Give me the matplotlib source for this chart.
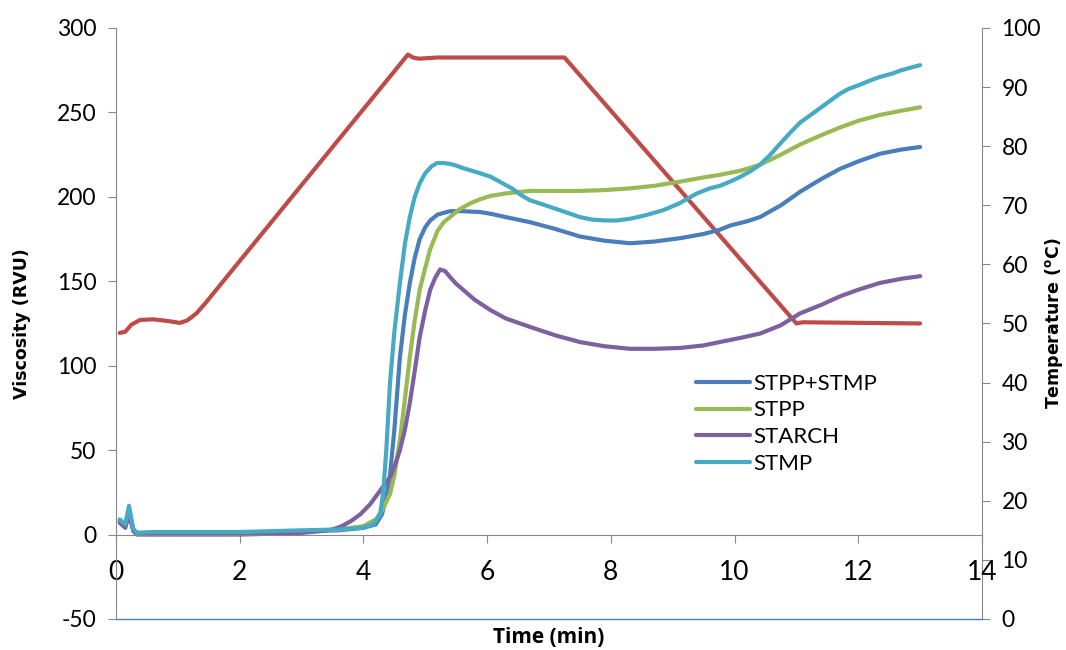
import numpy as np
import matplotlib
matplotlib.use("Agg")
import matplotlib.pyplot as plt

plt.rcParams['font.family'] = ['Lato', 'DejaVu Sans']
plt.rcParams['mathtext.default'] = 'regular'
plt.rcParams['axes.unicode_minus'] = False

# viscosity curves (RVU)
t_stmp = [0.06, 0.15, 0.21, 0.28, 0.34, 0.6, 1.0, 2.0, 3.0, 3.6, 4.0, 4.15, 4.2, 4.27, 4.32, 4.37, 4.43,
          4.5, 4.59, 4.67, 4.75, 4.83, 4.91, 5.0, 5.1, 5.19, 5.3, 5.4, 5.5, 5.61, 5.75, 5.88, 6.05, 6.2,
          6.4, 6.55, 6.69, 6.9, 7.1, 7.3, 7.5, 7.7, 7.9, 8.1, 8.31, 8.55, 8.84, 9.1, 9.39, 9.6, 9.76,
          9.93, 10.1, 10.25, 10.41, 10.58, 10.75, 10.9, 11.06, 11.25, 11.4, 11.55, 11.7, 11.85, 12.0,
          12.2, 12.35, 12.55, 12.7, 12.85, 13.0]
v_stmp = [9, 6, 17, 3, 1, 1.5, 1.5, 1.5, 2.5, 3, 4, 6, 8, 12, 25, 50, 90,
          120, 149, 172, 188, 200, 208, 214, 218, 220, 220, 219.5, 218.5, 217, 215.5, 214, 212, 209,
          205, 201, 198, 195.5, 193, 190.5, 188, 186.5, 186, 186, 187, 189, 192, 196, 202, 205, 206.5,
          209, 212, 215, 219, 225, 232, 238, 244, 249, 253, 257, 261, 264, 266,
          269, 271, 273, 275, 276.5, 278]

t_both = [0.06, 0.15, 0.21, 0.28, 0.34, 0.6, 1.0, 2.0, 3.0, 3.6, 4.0, 4.2, 4.3, 4.37, 4.43, 4.5, 4.59,
          4.67, 4.75, 4.83, 4.91, 5.0, 5.08, 5.2, 5.4, 5.6, 5.88, 6.05, 6.3, 6.69, 7.1, 7.5, 7.9, 8.31,
          8.7, 9.12, 9.5, 9.76, 9.93, 10.2, 10.41, 10.75, 11.06, 11.4, 11.7, 12.0, 12.35, 12.7, 13.0]
v_both = [8, 5, 14, 3, 1, 1, 1, 1, 2, 2.5, 4, 6, 12, 22, 35, 62, 105,
          130, 149, 164, 175, 182, 186, 189.5, 191.5, 191.5, 191, 190, 188, 185, 181, 176.5, 174, 172.5,
          173.5, 175.5, 178, 180.5, 183, 185.5, 188, 195, 203, 210.5, 216.5, 221, 225.5, 228, 229.5]

t_stpp = [0.06, 0.15, 0.21, 0.28, 0.34, 0.6, 1.0, 2.0, 3.0, 3.6, 4.0, 4.2, 4.3, 4.43, 4.5, 4.59, 4.67,
          4.75, 4.83, 4.91, 5.0, 5.08, 5.2, 5.3, 5.4, 5.55, 5.72, 5.88, 6.05, 6.3, 6.69, 7.1, 7.5, 7.9,
          8.31, 8.7, 9.12, 9.5, 9.76, 10.1, 10.41, 10.75, 11.06, 11.4, 11.7, 12.0, 12.35, 12.7, 13.0]
v_stpp = [8, 5, 14, 3, 0.5, 0.5, 0.5, 0.5, 1.5, 3, 5, 9, 14, 24, 35, 56, 80,
          105, 127, 145, 158, 169, 180, 185, 188, 192.5, 196, 198.5, 200.5, 202, 203.5, 203.5, 203.5, 204,
          205, 206.5, 209, 211.5, 213, 215.5, 219, 225, 231, 236.5, 241, 245, 248.5, 251, 253]

t_starch = [0.06, 0.15, 0.21, 0.28, 0.34, 0.6, 1.0, 2.0, 3.0, 3.3, 3.5, 3.65, 3.8, 3.95, 4.11, 4.27,
            4.43, 4.51, 4.59, 4.67, 4.75, 4.83, 4.91, 5.0, 5.08, 5.16, 5.24, 5.32, 5.4, 5.5, 5.61, 5.8,
            6.05, 6.3, 6.69, 7.1, 7.5, 7.9, 8.31, 8.7, 9.12, 9.5, 9.76, 10.1, 10.41, 10.75, 11.06, 11.4,
            11.7, 12.0, 12.35, 12.7, 13.0]
v_starch = [7, 4, 12, 2, 0, 0, 0, 0, 1, 2, 3, 5, 8, 12, 18, 26,
            34, 41, 50, 62, 78, 97, 117, 133, 145, 152, 157, 156, 152.5, 148.5, 145, 139,
            133, 128, 123, 118, 114, 111.5, 110, 110, 110.5, 112, 114, 116.5, 119, 124, 131, 136,
            141, 145, 149, 151.5, 153]

# temperature profile (deg C)
t_temp = [0.06, 0.15, 0.25, 0.39, 0.6, 0.85, 1.03, 1.15, 1.3, 1.45, 4.72, 4.8, 4.9, 5.2, 7.25, 11.0,
          11.1, 13.0]
v_temp = [48.4, 48.6, 49.8, 50.6, 50.7, 50.4, 50.1, 50.5, 51.7, 53.5, 95.5, 95.0, 94.8, 95.0, 95.0, 50.0,
          50.2, 50.0]

series = [
    ('STPP+STMP', t_both, v_both, '#4A7EBB'),
    ('STPP', t_stpp, v_stpp, '#98B954'),
    ('STARCH', t_starch, v_starch, '#7D60A0'),
    ('STMP', t_stmp, v_stmp, '#46AAC5'),
]

fig = plt.figure(figsize=(10.66, 6.5), dpi=100)
ax = fig.add_axes([0.1088, 0.0477, 0.8124, 0.9093])
ax2 = ax.twinx()

# temperature in the back
ax2.plot(t_temp, v_temp, color='#BE4B48', lw=3, solid_capstyle='round', solid_joinstyle='round')
ax.set_zorder(ax2.get_zorder() + 1)
ax.patch.set_visible(False)

for name, t, v, c in series:
    ax.plot(t, v, color=c, lw=3, label=name, solid_capstyle='round', solid_joinstyle='round')

ax.set_xlim(0, 14)
ax.set_ylim(-50, 300)
ax2.set_ylim(0, 100)
ax.set_xticks(np.arange(0, 15, 2))
ax.set_yticks(np.arange(-50, 301, 50))
ax2.set_yticks(np.arange(0, 101, 10))

grey = '#888888'
for a in (ax, ax2):
    for s in a.spines.values():
        s.set_color(grey)
    a.spines['top'].set_visible(False)
ax.spines['right'].set_visible(False)
ax2.spines['left'].set_visible(False)
ax2.spines['bottom'].set_visible(False)
ax.spines['bottom'].set_position(('data', 0))
ax.axhline(-50, color='#4A7EBB', lw=1, clip_on=False)

ax.tick_params(axis='y', direction='out', length=6, color=grey, labelsize=16.5, pad=8)
ax.tick_params(axis='x', direction='out', length=6, color=grey, labelsize=19, pad=12)
ax2.tick_params(axis='y', direction='out', length=6, color=grey, labelsize=16.5, pad=8)

ax.set_ylabel('Viscosity (RVU)', fontsize=12.5, fontweight='bold', family='DejaVu Sans')
ax.yaxis.set_label_coords(-0.098, 0.5)
ax2.set_ylabel(r'Temperature ($^{o}$C)', fontsize=12.5, fontweight='bold', family='DejaVu Sans')
ax2.yaxis.set_label_coords(1.07, 0.5)
ax.set_xlabel('Time (min)', fontsize=15, fontweight='bold', family=['Open Sans', 'DejaVu Sans'])
ax.xaxis.set_label_coords(0.5, -0.014)

ax.legend(loc='upper left', bbox_to_anchor=(0.66, 0.43), frameon=False, fontsize=16,
          handlelength=2.4, handletextpad=0.15, labelspacing=0.3, borderaxespad=0)

fig.savefig('out.png', dpi=100)
